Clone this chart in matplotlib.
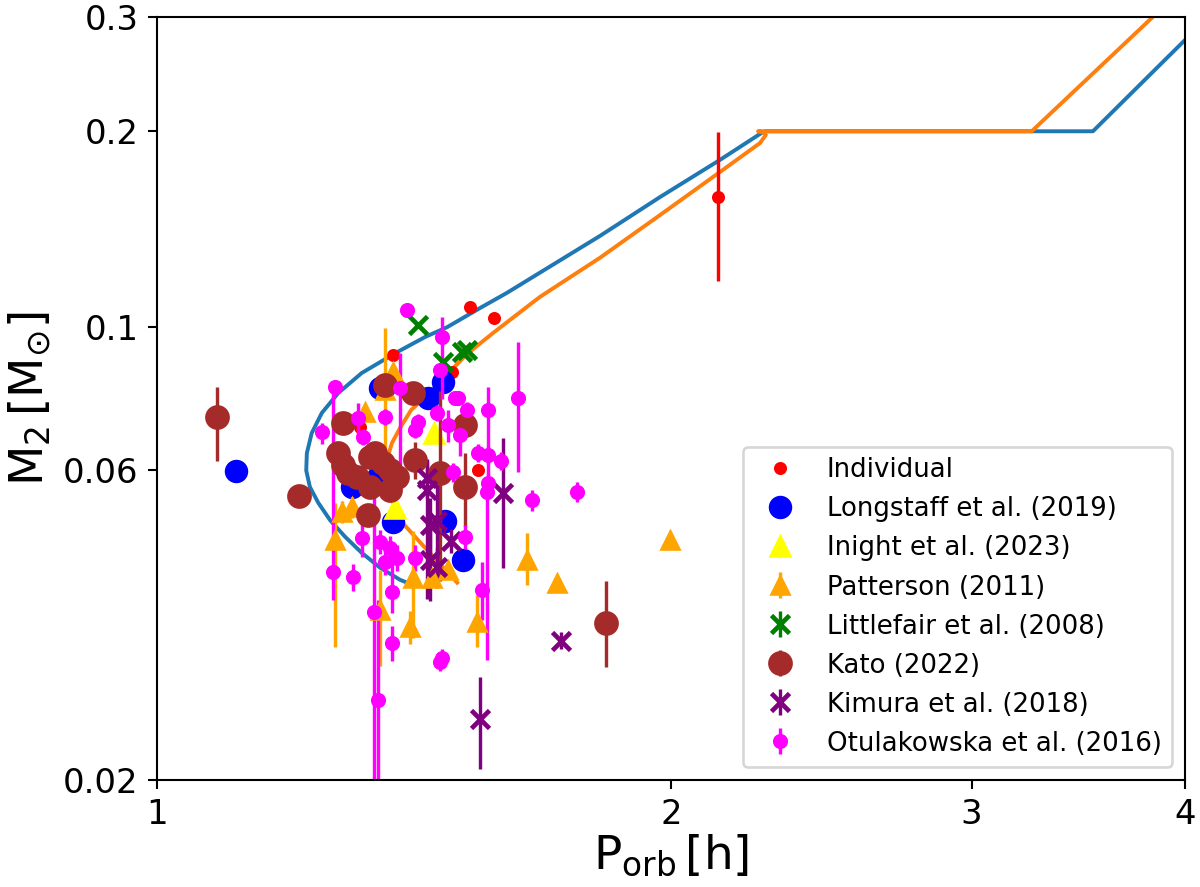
import matplotlib
matplotlib.use('Agg')
import matplotlib.pyplot as plt
from matplotlib.ticker import NullLocator

# evolutionary tracks (P_orb [h], M2 [Msun])
track1_p = [1.401, 1.388, 1.351, 1.318, 1.289, 1.263, 1.243, 1.229, 1.223, 1.224, 1.232,
            1.249, 1.277, 1.318, 1.379, 1.436, 1.479, 1.546, 1.603, 1.817, 1.971,
            2.136, 2.255, 2.27, 3.533, 4.0]
track1_m = [0.0403, 0.0407, 0.0425, 0.0448, 0.0474, 0.0503, 0.0535, 0.0566, 0.0600, 0.0638, 0.0685,
            0.0736, 0.0790, 0.0848, 0.0910, 0.0964, 0.0998, 0.1068, 0.1127, 0.1379, 0.1584,
            0.1806, 0.1981, 0.2, 0.2, 0.2765]

track2_p = [1.499, 1.441, 1.388, 1.375, 1.366, 1.362, 1.366, 1.373, 1.388, 1.409, 1.436,
            1.465, 1.495, 1.519, 1.573, 1.676, 1.817, 1.971, 2.136, 2.255, 2.273,
            2.262, 2.249, 3.253, 3.84]
track2_m = [0.0403, 0.0451, 0.0503, 0.0535, 0.0570, 0.0608, 0.0634, 0.0662, 0.0698, 0.0744, 0.0779,
            0.0821, 0.0869, 0.0907, 0.0977, 0.1111, 0.1276, 0.1486, 0.1730, 0.1918, 0.1974,
            0.1995, 0.2, 0.2, 0.302]

# Individual systems
ind_p = [2.13, 1.525, 1.575, 1.375, 1.488, 1.315, 1.542]
ind_m = [0.1584, 0.1072, 0.1031, 0.0904, 0.0850, 0.0700, 0.0600]
ind_err = [0.041, 0, 0, 0, 0, 0, 0]

# Longstaff et al. (2019)
long_p = [1.112, 1.351, 1.470, 1.441, 1.375, 1.475, 1.511, 1.301, 1.347]
long_m = [0.0599, 0.0803, 0.0821, 0.0776, 0.0499, 0.0502, 0.0437, 0.0566, 0.0587]

# Inight et al. (2023)
ini_p = [1.453, 1.378]
ini_m = [0.0685, 0.0525]

# Patterson (2011)
pat_p = [1.998, 1.715, 1.647, 1.539, 1.480, 1.412, 1.449, 1.406, 1.351, 1.271, 1.283, 1.301, 1.360, 1.375, 1.324]
pat_m = [0.0469, 0.0403, 0.0437, 0.0350, 0.0422, 0.0410, 0.0410, 0.0344, 0.0366, 0.0469, 0.0518, 0.0527, 0.0798, 0.0850, 0.0739]
pat_lo = [0.001, 0.001, 0.0037, 0.0029, 0.001, 0.0079, 0.001, 0.002, 0.0066, 0.0148, 0.002, 0.002, 0.0175, 0.002, 0.002]
pat_hi = [0.001, 0.001, 0.0044, 0.0036, 0.001, 0.0074, 0.001, 0.002, 0.0056, 0.0066, 0.002, 0.002, 0.0197, 0.002, 0.002]

# Littlefair et al. (2008)
lf_p = [1.422, 1.470, 1.519, 1.509]
lf_m = [0.1005, 0.0882, 0.0920, 0.0914]
lf_err = [0.001, 0.001, 0.001, 0.001]

# Kato (2022)
kato_p = [1.084, 1.211, 1.285, 1.276, 1.285, 1.294, 1.310, 1.333, 1.342, 1.356, 1.369,
          1.382, 1.333, 1.369, 1.329, 1.360, 1.412, 1.416, 1.465, 1.515, 1.515, 1.832]
kato_m = [0.0726, 0.0548, 0.0710, 0.0638, 0.0612, 0.0595, 0.0586, 0.0629, 0.0638, 0.0616, 0.0600,
          0.0586, 0.0566, 0.0560, 0.0512, 0.0813, 0.0790, 0.0623, 0.0595, 0.0566, 0.0705, 0.0349]
kato_lo = [0.0105, 0.002, 0.002, 0.002, 0.002, 0.002, 0.002, 0.002, 0.002, 0.002, 0.002,
           0.002, 0.002, 0.002, 0.002, 0.002, 0.002, 0.004, 0.019, 0.0075, 0.003, 0.005]
kato_hi = [0.008, 0.002, 0.002, 0.002, 0.002, 0.002, 0.002, 0.002, 0.002, 0.002, 0.002,
           0.002, 0.002, 0.002, 0.002, 0.002, 0.002, 0.004, 0.020, 0.0073, 0.003, 0.0056]

# Kimura et al. (2018)
kim_p = [1.546, 1.724, 1.595, 1.486, 1.439, 1.439, 1.445, 1.459, 1.445, 1.459]
kim_m = [0.0248, 0.0328, 0.0554, 0.0467, 0.0584, 0.0560, 0.0494, 0.0502, 0.0437, 0.0426]
kim_lo = [0.004, 0.001, 0.013, 0.002, 0.004, 0.018, 0.005, 0.008, 0.006, 0.003]
kim_hi = [0.004, 0.001, 0.012, 0.002, 0.004, 0.006, 0.005, 0.008, 0.008, 0.003]

# Otulakowska et al. (2016)
otu_p = [1.401, 1.469, 1.388, 1.271, 1.268, 1.249, 1.311, 1.320, 1.360, 1.416, 1.422,
         1.459, 1.481, 1.501, 1.505, 1.519, 1.542, 1.563, 1.563, 1.628, 1.495, 1.591,
         1.491, 1.563, 1.561, 1.659, 1.762, 1.515, 1.550, 1.469, 1.302, 1.318, 1.351,
         1.369, 1.360, 1.382, 1.416, 1.373, 1.340, 1.347, 1.373, 1.465, 1.465]
otu_m = [0.1060, 0.0964, 0.0804, 0.0806, 0.0419, 0.0688, 0.0723, 0.0676, 0.0726, 0.0693, 0.0713,
         0.0736, 0.0705, 0.0776, 0.0681, 0.0744, 0.0638, 0.0744, 0.0634, 0.0776, 0.0776, 0.0621,
         0.0597, 0.0574, 0.0556, 0.0540, 0.0556, 0.0474, 0.0393, 0.0308, 0.0411, 0.0472, 0.0466,
         0.0456, 0.0434, 0.0440, 0.0440, 0.0390, 0.0363, 0.0266, 0.0325, 0.0304, 0.0856]
otu_lo = [0.002, 0.019, 0.0244, 0.002, 0.004, 0.003, 0.004, 0.002, 0.002, 0.002, 0.002,
          0.002, 0.004, 0.002, 0.005, 0.002, 0.002, 0.0184, 0.002, 0.018, 0.002, 0.002,
          0.002, 0.002, 0.025, 0.002, 0.002, 0.002, 0.004, 0.001, 0.002, 0.003, 0.002,
          0.002, 0.002, 0.002, 0.002, 0.0028, 0.017, 0.0075, 0.002, 0.001, 0.002]
otu_hi = [0.002, 0.007, 0.0106, 0.002, 0.0387, 0.0022, 0.004, 0.002, 0.002, 0.002, 0.002,
          0.002, 0.004, 0.002, 0.005, 0.002, 0.002, 0.0062, 0.002, 0.017, 0.002, 0.002,
          0.002, 0.002, 0.0024, 0.002, 0.002, 0.002, 0.004, 0.001, 0.002, 0.003, 0.002,
          0.002, 0.002, 0.002, 0.002, 0.0067, 0.0217, 0.0113, 0.002, 0.001, 0.002]

fig = plt.figure(figsize=(6.4, 4.7307), dpi=187.5)
ax = fig.add_axes([0.1308, 0.1206, 0.8567, 0.8602])

# tracks first, data on top
ax.plot(track1_p, track1_m, color='C0', lw=1.5)
ax.plot(track2_p, track2_m, color='C1', lw=1.5)

ax.plot(ind_p, ind_m, 'o', color='red', ms=4, label='Individual')
ax.errorbar(ind_p, ind_m, yerr=ind_err, fmt='none', ecolor='red', elinewidth=1.3)
ax.plot(long_p, long_m, 'o', color='blue', ms=8, label='Longstaff et al. (2019)')
ax.plot(ini_p, ini_m, '^', color='yellow', ms=8, label='Inight et al. (2023)')
ax.errorbar(pat_p, pat_m, yerr=[pat_lo, pat_hi], fmt='^', color='orange', ms=7,
            elinewidth=1.3, label='Patterson (2011)')
ax.errorbar(lf_p, lf_m, yerr=lf_err, fmt='x', color='green', ms=7, mew=1.8,
            elinewidth=1.3, label='Littlefair et al. (2008)')
ax.errorbar(kato_p, kato_m, yerr=[kato_lo, kato_hi], fmt='o', color='brown', ms=8.5,
            elinewidth=1.3, label='Kato (2022)')
ax.errorbar(kim_p, kim_m, yerr=[kim_lo, kim_hi], fmt='x', color='purple', ms=7, mew=1.8,
            elinewidth=1.3, label='Kimura et al. (2018)')
ax.errorbar(otu_p, otu_m, yerr=[otu_lo, otu_hi], fmt='o', color='magenta', ms=4.8,
            elinewidth=1.3, label='Otulakowska et al. (2016)')

ax.set_xscale('log')
ax.set_yscale('log')
ax.set_xlim(1, 4)
ax.set_ylim(0.02, 0.3)
ax.set_xticks([1, 2, 3, 4])
ax.set_xticklabels(['1', '2', '3', '4'])
ax.set_yticks([0.02, 0.06, 0.1, 0.2, 0.3])
ax.set_yticklabels(['0.02', '0.06', '0.1', '0.2', '0.3'])
ax.xaxis.set_minor_locator(NullLocator())
ax.yaxis.set_minor_locator(NullLocator())
ax.tick_params(labelsize=13)

ax.set_xlabel(r'$\rm P_{orb}\,[h]$', fontsize=18, labelpad=0.5)
ax.set_ylabel(r'$\rm M_2\,[M_{\odot}]$', fontsize=18)

ax.legend(loc='lower right', fontsize=10)

fig.savefig('out.png', dpi=187.5)
print("Created out.png")
